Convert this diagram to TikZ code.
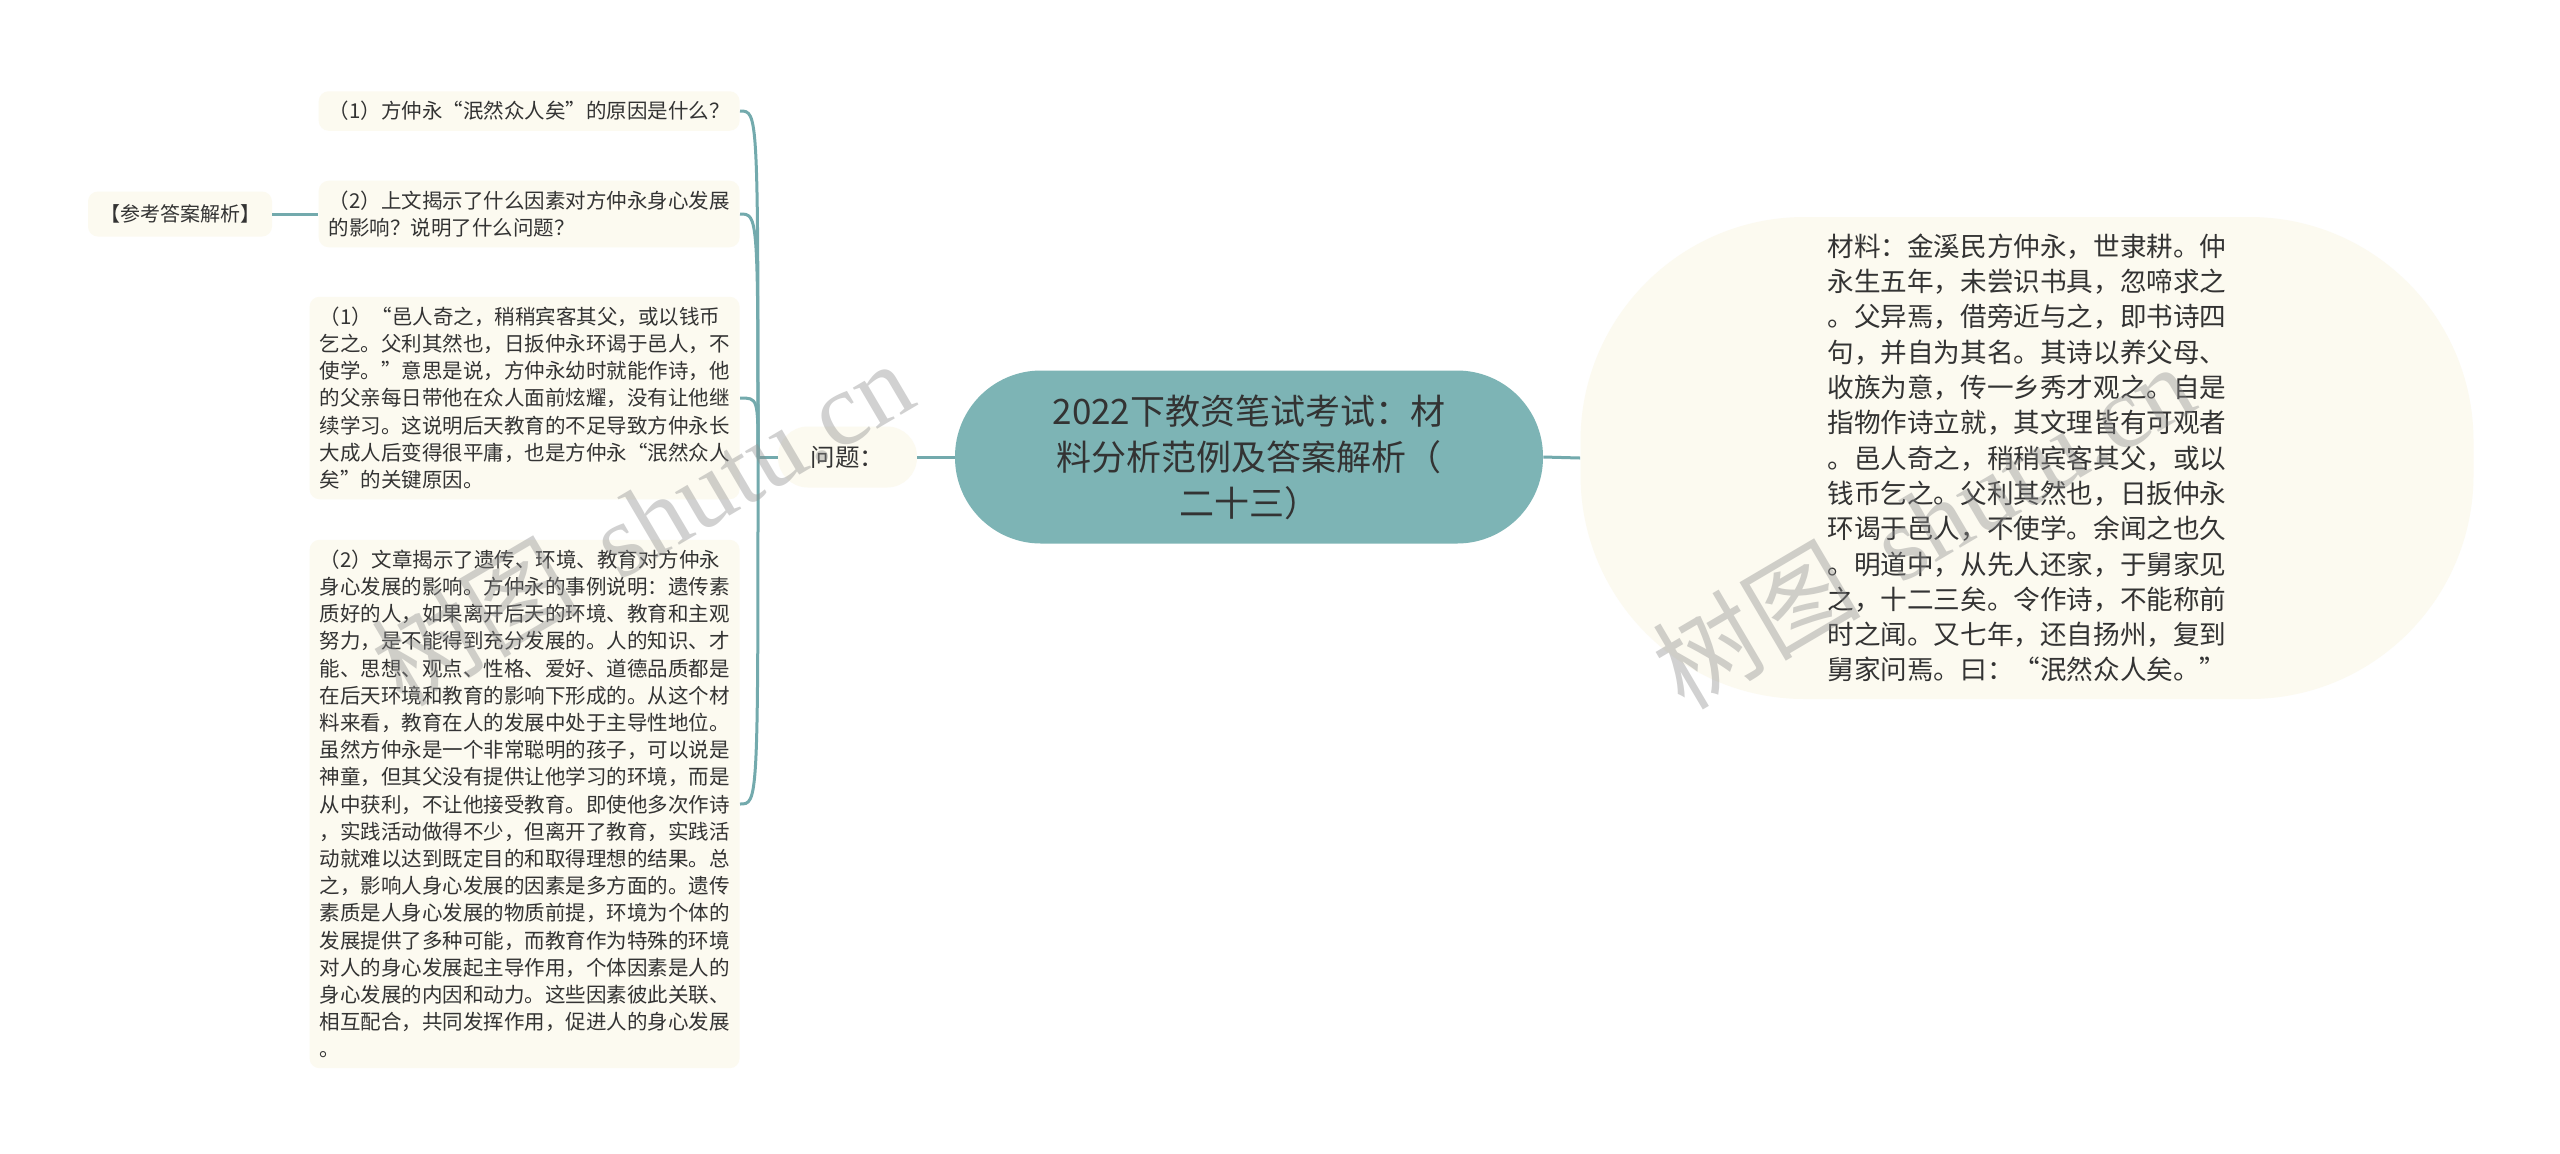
\documentclass[tikz,border=0pt]{standalone}
\usepackage{fontspec}
\setmainfont{Noto Sans CJK SC}
\newfontfamily\wmlatin{Liberation Serif}
\usetikzlibrary{calc}
\definecolor{rootfill}{HTML}{7DB4B5}
\definecolor{tealline}{HTML}{73AAAD}
\definecolor{cream}{HTML}{FCFAF0}
\definecolor{txt}{HTML}{333333}
\definecolor{wmgray}{HTML}{8C8C8C}
\begin{document}
\begin{tikzpicture}[x=0.5pt,y=-0.5pt,
  conn/.style={draw=tealline,line width=1.5pt},
  leaf/.style={fill=cream,rounded corners=5pt,inner xsep=5pt,inner ysep=5pt,align=left,text=txt,
    font=\fontsize{10.25}{13.6}\selectfont,anchor=east},
  tagbox/.style={fill=cream,rounded corners=5pt,minimum width=92pt,minimum height=22.5pt,inner sep=0pt,
    text=txt,font=\fontsize{10}{12}\selectfont},
  pill/.style={fill=cream,rounded corners=15pt,minimum width=69.5pt,minimum height=30.5pt,inner sep=0pt,
    text=txt,font=\fontsize{12.25}{14}\selectfont},
  rootbox/.style={fill=rootfill,rounded corners=43pt,minimum width=294pt,minimum height=86.5pt,inner sep=0pt,
    align=center,text=txt,font=\fontsize{17.5}{23}\selectfont},
  matbox/.style={fill=cream,rounded corners=112pt,minimum width=446.5pt,minimum height=241pt,inner sep=0pt,
    align=left,text=txt,font=\fontsize{13.3}{17.65}\selectfont},
  wmark/.style={text=wmgray,opacity=0.4,rotate=30.5,inner sep=0pt,font=\fontsize{52}{52}\selectfont}
]
\useasboundingbox[fill=white] (0,0) rectangle (2560,1153);

% central topic
\node[rootbox] (root) at (1249,457) {2022下教资笔试考试：材\\料分析范例及答案解析（\\二十三）};

% material
\node[matbox] (mat) at (2027,458) {材料：金溪民方仲永，世隶耕。仲\\永生五年，未尝识书具，忽啼求之\\。父异焉，借旁近与之，即书诗四\\句，并自为其名。其诗以养父母、\\收族为意，传一乡秀才观之。自是\\指物作诗立就，其文理皆有可观者\\。邑人奇之，稍稍宾客其父，或以\\钱币乞之。父利其然也，日扳仲永\\环谒于邑人，不使学。余闻之也久\\。明道中，从先人还家，于舅家见\\之，十二三矣。令作诗，不能称前\\时之闻。又七年，还自扬州，复到\\舅家问焉。曰：“泯然众人矣。”};

% question
\node[pill] (q) at (847.5,457) {问题：};
\coordinate (J) at (758,457);

% leaves
\node[leaf] (a1) at (740,111) {（1）方仲永“泯然众人矣”的原因是什么？};
\node[leaf] (a2) at (740,214) {（2）上文揭示了什么因素对方仲永身心发展\\的影响？说明了什么问题？};
\node[leaf] (a3) at (740,398) {（1）“邑人奇之，稍稍宾客其父，或以钱币\\乞之。父利其然也，日扳仲永环谒于邑人，不\\使学。”意思是说，方仲永幼时就能作诗，他\\的父亲每日带他在众人面前炫耀，没有让他继\\续学习。这说明后天教育的不足导致方仲永长\\大成人后变得很平庸，也是方仲永“泯然众人\\矣”的关键原因。};
\node[leaf] (a4) at (740,804) {（2）文章揭示了遗传、环境、教育对方仲永\\身心发展的影响。方仲永的事例说明：遗传素\\质好的人，如果离开后天的环境、教育和主观\\努力，是不能得到充分发展的。人的知识、才\\能、思想、观点、性格、爱好、道德品质都是\\在后天环境和教育的影响下形成的。从这个材\\料来看，教育在人的发展中处于主导性地位。\\虽然方仲永是一个非常聪明的孩子，可以说是\\神童，但其父没有提供让他学习的环境，而是\\从中获利，不让他接受教育。即使他多次作诗\\，实践活动做得不少，但离开了教育，实践活\\动就难以达到既定目的和取得理想的结果。总\\之，影响人身心发展的因素是多方面的。遗传\\素质是人身心发展的物质前提，环境为个体的\\发展提供了多种可能，而教育作为特殊的环境\\对人的身心发展起主导作用，个体因素是人的\\身心发展的内因和动力。这些因素彼此关联、\\相互配合，共同发挥作用，促进人的身心发展\\。};

\node[tagbox] (ref) at (180,214) {【参考答案解析】};

% connectors
\draw[conn] (root.west) -- (q.east);
\draw[conn] (root.east) -- (mat.west);
\draw[conn] (q.west) -- (J);
\foreach \n in {a1,a2,a3,a4}
  \draw[conn] (J) .. controls (J|-\n.east) .. (\n.east);
\draw[conn] (ref.east) -- (a2.west);

% watermarks
\node[wmark] (wm1) at (642,522) {树图\hspace{0.4em}{\wmlatin shutu.cn}};
\node[wmark] (wm2) at (1923,525) {树图\hspace{0.4em}{\wmlatin shutu.cn}};
\end{tikzpicture}
\end{document}
